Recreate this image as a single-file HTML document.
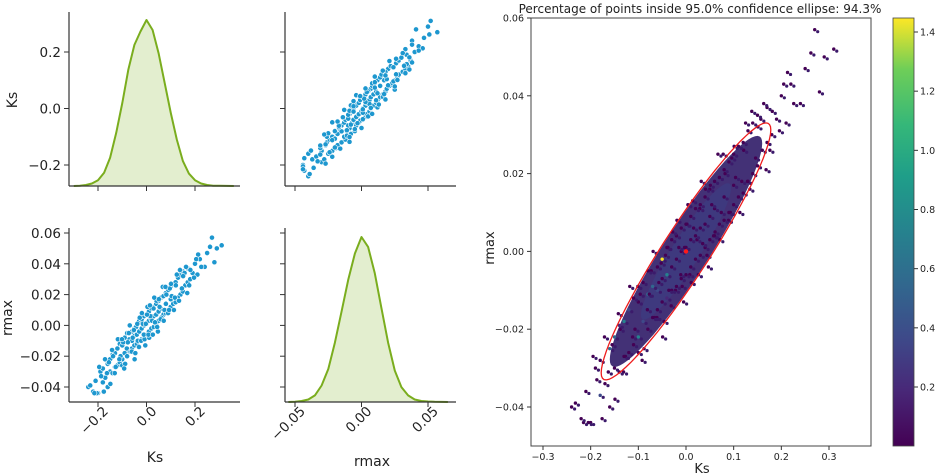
<!DOCTYPE html>
<html><head><meta charset="utf-8"><style>
body{margin:0;background:#fff;}
svg{display:block;font-family:"DejaVu Sans","Liberation Sans",sans-serif;}
</style></head><body>
<svg id="fig" width="937" height="476" viewBox="0 0 937 476">
<defs>
<linearGradient id="viridis" x1="0" y1="1" x2="0" y2="0">
<stop offset="0" stop-color="#440154"/><stop offset="0.13" stop-color="#482878"/><stop offset="0.25" stop-color="#3e4989"/><stop offset="0.38" stop-color="#31688e"/><stop offset="0.5" stop-color="#26828e"/><stop offset="0.63" stop-color="#1f9e89"/><stop offset="0.75" stop-color="#35b779"/><stop offset="0.88" stop-color="#6ece58"/><stop offset="1" stop-color="#fde725"/>
</linearGradient>
</defs>
<g id="layer"></g>
</svg>
<script>
const ksValues = [
-0.24,-0.22,-0.21,-0.2,-0.19,-0.18,-0.18,-0.17,-0.16,-0.16,
-0.15,-0.15,-0.14,-0.14,-0.13,-0.13,-0.12,-0.12,-0.11,-0.11,
-0.1,-0.1,-0.1,-0.09,-0.09,-0.08,-0.08,-0.08,-0.07,-0.07,
-0.06,-0.06,-0.06,-0.05,-0.05,-0.05,-0.04,-0.04,-0.04,-0.03,
-0.03,-0.03,-0.02,-0.02,-0.02,-0.01,-0.01,-0.01,0,0,
0,0.01,0.01,0.01,0.02,0.02,0.02,0.03,0.03,0.03,
0.04,0.04,0.04,0.05,0.05,0.05,0.06,0.06,0.06,0.07,
0.07,0.08,0.08,0.08,0.09,0.09,0.1,0.1,0.1,0.11,
0.11,0.12,0.12,0.13,0.13,0.14,0.14,0.15,0.15,0.16,
0.17,0.17,0.18,0.19,0.2,0.21,0.22,0.24,0.25,0.27,
0.28,0.29,0.31,
-0.232,-0.205,-0.187,-0.171,-0.163,-0.149,-0.138,-0.127,-0.118,-0.107,
-0.096,-0.088,-0.081,-0.073,-0.066,-0.057,-0.049,-0.043,-0.036,-0.028,
-0.022,-0.015,-0.008,-0.003,0.004,0.011,0.016,0.023,0.029,0.035,
0.041,0.047,0.054,0.061,0.067,0.074,0.082,0.089,0.096,0.104,
0.113,0.121,0.129,0.138,0.146,0.157,0.168,0.181,0.196,0.213,
-0.215,-0.195,-0.176,-0.155,-0.142,-0.131,-0.112,-0.101,-0.092,-0.077,
-0.069,-0.061,-0.052,-0.046,-0.038,-0.031,-0.019,-0.011,-0.005,0.002,
0.008,0.014,0.026,0.032,0.044,0.051,0.058,0.071,0.078,0.093,
0.101,0.117,0.125,0.134,0.151,0.163,0.176,0.205,0.226,0.262];
const rmaxValues = [
-0.040,-0.043,-0.036,-0.044,-0.030,-0.037,-0.028,-0.034,-0.025,-0.040,
-0.030,-0.022,-0.031,-0.019,-0.027,-0.018,-0.026,-0.015,-0.024,-0.012,
-0.022,-0.013,-0.026,-0.018,-0.008,-0.020,-0.011,-0.005,-0.017,-0.009,
-0.015,-0.004,-0.010,-0.013,-0.002,-0.007,-0.012,0.001,-0.006,-0.010,
0.003,-0.004,-0.009,0.004,-0.002,-0.007,0.006,0.000,-0.006,0.007,
0.001,-0.004,0.009,0.003,-0.002,0.011,0.004,-0.001,0.012,0.006,
0.001,0.014,0.007,0.003,0.016,0.009,0.004,0.018,0.011,0.007,
0.019,0.008,0.021,0.014,0.010,0.023,0.012,0.025,0.017,0.014,
0.027,0.015,0.028,0.018,0.031,0.020,0.033,0.022,0.035,0.026,
0.028,0.037,0.030,0.034,0.040,0.033,0.043,0.038,0.047,0.057,
0.041,0.050,0.052,
-0.039,-0.044,-0.033,-0.022,-0.031,-0.038,-0.020,-0.027,-0.009,-0.020,
-0.011,-0.025,-0.015,-0.005,-0.017,-0.008,-0.022,-0.001,-0.010,0.005,
-0.010,0.001,-0.009,0.001,0.012,-0.008,0.006,0.003,0.011,0.002,
0.016,-0.004,0.012,0.005,0.025,0.010,0.020,0.008,0.024,0.019,
0.010,0.026,0.018,0.036,0.024,0.034,0.021,0.036,0.031,0.046,
-0.044,-0.027,-0.043,-0.024,-0.016,-0.031,-0.022,-0.009,-0.028,-0.011,
0.000,-0.017,-0.003,-0.018,0.001,-0.014,0.008,-0.006,-0.013,0.007,
-0.006,0.013,-0.006,0.018,-0.001,0.017,0.004,0.003,0.025,0.010,
0.027,0.018,0.033,0.016,0.032,0.038,0.026,0.043,0.038,0.051];
const densityValues = [0.1,0.1,0.1,0.1,0.1,0.3,0.1,0.1,0.5,0.1,0.1,0.6,0.1,0.2,0.1,0.8,0.1,0.4,0.1,0.1,0.7,0.1,0.1,0.3,0.1,0.1,0.5,0.1,0.1,0.6,0.1,0.1,0.4,0.1,1.4,0.1,0.2,0.1,0.7,0.1];
const kdeKsX = [-0.3,-0.275,-0.25,-0.225,-0.2,-0.175,-0.15,-0.125,-0.1,-0.075,-0.05,-0.025,0,0.025,0.05,0.075,0.1,0.125,0.15,0.175,0.2,0.225,0.25,0.275,0.3,0.36];
const kdeKsY = [0,0.002,0.006,0.015,0.035,0.08,0.17,0.32,0.5,0.7,0.85,0.93,1.0,0.94,0.8,0.62,0.44,0.28,0.15,0.075,0.035,0.015,0.006,0.002,0.001,0];
const kdeRX = [-0.055,-0.05,-0.045,-0.04,-0.035,-0.03,-0.025,-0.02,-0.015,-0.01,-0.005,0,0.005,0.01,0.015,0.02,0.025,0.03,0.035,0.04,0.045,0.05,0.055,0.065];
const kdeRY = [0,0.002,0.006,0.015,0.04,0.1,0.2,0.36,0.55,0.74,0.9,1.0,0.94,0.78,0.57,0.36,0.19,0.09,0.04,0.015,0.006,0.003,0.001,0];
const ksTicks = [-0.2,0.0,0.2], ksTickLabels = ["\u22120.2","0.0","0.2"];
const rTicksX = [-0.05,0.0,0.05], rTicksXLabels = ["\u22120.05","0.00","0.05"];
const rTicksY = [0.06,0.04,0.02,0.0,-0.02,-0.04], rTicksYLabels = ["0.06","0.04","0.02","0.00","\u22120.02","\u22120.04"];
const bigKsTicks = [-0.3,-0.2,-0.1,0.0,0.1,0.2,0.3], bigKsLabels = ["\u22120.3","\u22120.2","\u22120.1","0.0","0.1","0.2","0.3"];
const bigRTicks = [0.06,0.04,0.02,0.0,-0.02,-0.04], bigRLabels = ["0.06","0.04","0.02","0.00","\u22120.02","\u22120.04"];
const cbTicks = [1.4,1.2,1.0,0.8,0.6,0.4,0.2], cbLabels = ["1.4","1.2","1.0","0.8","0.6","0.4","0.2"];
const ellipseMean = [0,0], ellipseStd = [0.0727,0.0135], ellipseRho = 0.945, ellipseScale = 2.448;

const NS="http://www.w3.org/2000/svg", L=document.getElementById('layer');
function mk(tag,attrs,parent){const e=document.createElementNS(NS,tag);for(const k in attrs)e.setAttribute(k,attrs[k]);(parent||L).appendChild(e);return e;}
function lin(d0,d1,p0,p1){return v=>p0+(v-d0)*(p1-p0)/(d1-d0);}
const STROKE="#333";
const xKsL=lin(-0.2,0.2,98,195), yKsT=lin(0.2,-0.2,52,165);
const xR=lin(-0.05,0.05,295,428), yRB=lin(0.06,-0.04,233,387);
const PW=171, PH=174;

function spines(x0,y0,name){const g=mk('g',{});
 mk('line',{x1:x0,y1:y0,x2:x0,y2:y0+PH,stroke:STROKE,'stroke-width':1.2},g);
 mk('line',{x1:x0,y1:y0+PH,x2:x0+PW,y2:y0+PH,stroke:STROKE,'stroke-width':1.2},g);return g;}
function kde(xs,ys,sx,base,top,name){const g=mk('g',{});
 let d='';xs.forEach((v,i)=>{d+=(i?'L':'M')+sx(v).toFixed(1)+','+(base-ys[i]*(base-top)).toFixed(1);});
 mk('path',{d:d+'L'+sx(xs[xs.length-1])+','+base+'L'+sx(xs[0])+','+base+'Z',fill:'#e3eecf',stroke:'none'},g);
 mk('path',{d:d,fill:'none',stroke:'#7aad1e','stroke-width':2,'stroke-linejoin':'round'},g);}
function scatter(sx,sy,xv,yv,name){const g=mk('g',{});
 xv.forEach((v,i)=>{const c=mk('circle',{cx:sx(v),cy:sy(yv[i]),r:2.6,fill:'#1d97cf',stroke:'#fff','stroke-width':0.6},g);
 
 });}
function yticks(x,vals,sy,labels,fs){vals.forEach((v,i)=>{mk('line',{x1:x-5,y1:sy(v),x2:x,y2:sy(v),stroke:STROKE,'stroke-width':1});
 if(labels){const t=mk('text',{x:x-8,y:sy(v)+5,'text-anchor':'end','font-size':fs,fill:'#222'});t.textContent=labels[i];
 
 }});}
function xticks(y,vals,sx,labels,fs,rot){vals.forEach((v,i)=>{mk('line',{x1:sx(v),y1:y,x2:sx(v),y2:y+5,stroke:STROKE,'stroke-width':1});
 if(labels){let t;if(rot){const px=sx(v)+11,py=y+10;t=mk('text',{x:px,y:py,'text-anchor':'end','font-size':fs,fill:'#222',transform:`rotate(-45 ${px} ${py})`});}
 else t=mk('text',{x:sx(v),y:y+17,'text-anchor':'middle','font-size':fs,fill:'#222'});
 t.textContent=labels[i];
 
 }});}
function label(txt,x,y,fs,rot,name){const t=mk('text',{x:x,y:y,'text-anchor':'middle','font-size':fs,fill:'#222'});if(rot)t.setAttribute('transform',`rotate(-90 ${x} ${y})`);t.textContent=txt;
 
 }

kde(kdeKsX,kdeKsY,xKsL,186,20,'ks-kde');
spines(69,12,'ks-kde-axes');yticks(69,ksTicks,yKsT,ksTickLabels,13.5);xticks(186,ksTicks,xKsL,null);
scatter(xR,yKsT,rmaxValues,ksValues,'scatter-rmax-ks');
spines(285,12,'scatter-top-axes');yticks(285,ksTicks,yKsT,null);xticks(186,rTicksX,xR,null);
scatter(xKsL,yRB,ksValues,rmaxValues,'scatter-ks-rmax');
spines(69,228,'scatter-bottom-axes');yticks(69,rTicksY,yRB,rTicksYLabels,13.5);xticks(402,ksTicks,xKsL,ksTickLabels,13.5,true);
kde(kdeRX,kdeRY,xR,402,237,'rmax-kde');
spines(285,228,'rmax-kde-axes');yticks(285,rTicksY,yRB,null);xticks(402,rTicksX,xR,rTicksXLabels,13.5,true);
label('Ks',17,100,14,true,'ks-y-label');label('rmax',12,318,14,true,'rmax-y-label');
label('Ks',155,462,14,false,'ks-x-label');label('rmax',372,466,14,false,'rmax-x-label');

const bx=lin(-0.3,0.3,543,829), by=lin(0.06,-0.04,18,407);
const cbScale=lin(0.2,1.4,387,32);
const vstops=["#440154","#482878","#3e4989","#31688e","#26828e","#1f9e89","#35b779","#6ece58","#fde725"];
function viridis(v){let t=(v-0.02)/(1.45-0.02);t=Math.max(0,Math.min(1,t));return vstops[Math.round(t*8)];}
const big=mk('g',{});
function ellipsePath(scale,rho){let d='';const [sK,sR]=ellipseStd,r=rho;
 for(let k=0;k<=72;k++){const t=k/72*2*Math.PI,a=Math.cos(t),b=Math.sin(t);
  const dk=scale*sK*a, dr=scale*sR*(r*a+Math.sqrt(1-r*r)*b);
  d+=(k?'L':'M')+bx(ellipseMean[0]+dk).toFixed(1)+','+by(ellipseMean[1]+dr).toFixed(1);}return d+'Z';}
const core=mk('path',{d:ellipsePath(2.2,0.935),fill:'#33206a',opacity:0.92,stroke:'none'},big);

const core2=mk('path',{d:ellipsePath(1.3,0.93),fill:'#3a3f85',opacity:0.55,stroke:'none'},big);

ksValues.forEach((v,i)=>{const c=mk('circle',{cx:bx(v),cy:by(rmaxValues[i]),r:1.7,fill:viridis(densityValues[i]??0.1)},big);
 
 });
ksValues.forEach((v,i)=>{const c=mk('circle',{cx:bx(v)+3,cy:by(rmaxValues[i])+2,r:1.6,fill:'#3b1a6b'},big);
 
 });
const el=mk('path',{d:ellipsePath(ellipseScale,ellipseRho),fill:'none',stroke:'#ee1c1c','stroke-width':1.3},big);

const mc=mk('circle',{cx:bx(ellipseMean[0]),cy:by(ellipseMean[1]),r:2.2,fill:'#ff1a1a'},big);

const fr=mk('rect',{x:531,y:18,width:340,height:428,fill:'none',stroke:'#444','stroke-width':1});

bigRTicks.forEach((v,i)=>{mk('line',{x1:527,y1:by(v),x2:531,y2:by(v),stroke:STROKE});const t=mk('text',{x:524,y:by(v)+3.5,'text-anchor':'end','font-size':9.5,fill:'#222'});t.textContent=bigRLabels[i];
 
 });
bigKsTicks.forEach((v,i)=>{mk('line',{x1:bx(v),y1:446,x2:bx(v),y2:450,stroke:STROKE});const t=mk('text',{x:bx(v),y:460,'text-anchor':'middle','font-size':9.5,fill:'#222'});t.textContent=bigKsLabels[i];
 
 });
label('Ks',702,473,13,false,'main-x-title');label('rmax',494,248,13,true,'main-y-title');
label('Percentage of points inside 95.0% confidence ellipse: 94.3%',700,13,12,false,'chart-title');
const cb=mk('rect',{x:893,y:18,width:21,height:428,fill:'url(#viridis)',stroke:'#444','stroke-width':0.8});

cbTicks.forEach((v,i)=>{mk('line',{x1:914,y1:cbScale(v),x2:918,y2:cbScale(v),stroke:STROKE});const t=mk('text',{x:920,y:cbScale(v)+3.5,'font-size':9.5,fill:'#222'});t.textContent=cbLabels[i];
 
 });
</script>
</body></html>
